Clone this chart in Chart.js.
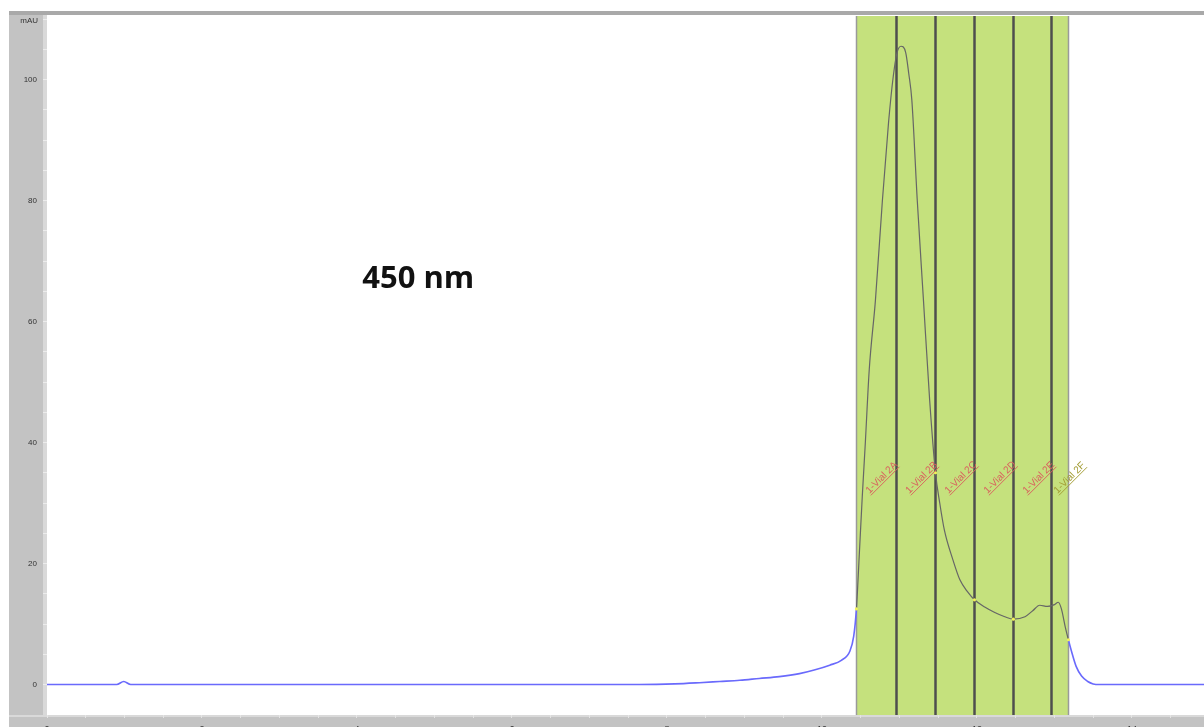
<!DOCTYPE html>
<html>
<head>
<meta charset="utf-8">
<script src="https://cdn.jsdelivr.net/npm/chart.js@4/dist/chart.umd.min.js"></script>
<style>
  html, body { margin: 0; padding: 0; background: #ffffff; overflow: hidden; }
  #wrap { width: 1204px; height: 727px; }
</style>
</head>
<body>
<div id="wrap"><canvas id="chrom" width="1204" height="727"></canvas></div>
<script>
// retention time (min) and absorbance at 450 nm (mAU)
const timeMin = [0.00, 0.67, 0.90, 0.99, 1.08, 3.25, 5.84, 7.64, 8.10, 8.42, 8.68, 8.94, 9.19, 9.45,
  9.71, 9.90, 10.10, 10.25, 10.36, 10.41, 10.445, 10.48, 10.52, 10.56, 10.61, 10.69, 10.78, 10.86,
  10.92, 10.97, 11.02, 11.08, 11.12, 11.16, 11.23, 11.31, 11.39, 11.465, 11.52, 11.58, 11.69, 11.78,
  11.88, 11.968, 12.10, 12.23, 12.36, 12.47, 12.62, 12.72, 12.81, 12.91, 13.00, 13.05, 13.09, 13.14,
  13.18, 13.22, 13.28, 13.35, 13.43, 13.50, 13.58, 14.93];
const absMAU = [0, 0, 0, 0.5, 0, 0, 0, 0, 0.1, 0.3, 0.5, 0.7, 1.0, 1.3,
  1.8, 2.4, 3.2, 4.0, 5.5, 8.0, 12.5, 21, 31, 40, 52, 63.5, 80, 93,
  100.5, 104.5, 105.5, 104.5, 101, 96.6, 80, 63.5, 47, 35, 30, 25.5, 20.6, 17.3,
  15.3, 14, 12.8, 11.9, 11.2, 10.8, 11.2, 12.2, 13.1, 12.9, 13.2, 13.6, 12.5, 9.5,
  7.4, 5.5, 3.0, 1.4, 0.5, 0.1, 0, 0];

// fraction collection windows
const fractionEdges = [10.445, 10.96, 11.464, 11.968, 12.471, 12.962, 13.18];
const fractionNames = ['1-Vial 2A', '1-Vial 2B', '1-Vial 2C', '1-Vial 2D', '1-Vial 2E', '1-Vial 2F'];

const yTickLabels = [0, 20, 40, 60, 80, 100];
const xTickLabels = [0, 2, 4, 6, 8, 10, 12, 14];

const blueLine = '#6a6afc';
const fracLine = '#666666';

function inFraction(x) {
    return x >= fractionEdges[0] - 1e-6 && x <= fractionEdges[fractionEdges.length - 1] + 1e-6;
}
function nearEdge(x) {
    return fractionEdges.some(e => Math.abs(e - x) < 0.004);
}

// fond gris du logiciel + zone blanche du tracé
const frameBg = {
    id: 'frameBg',
    beforeDraw(chart) {
        const { ctx, chartArea: a, width, height } = chart;
        ctx.save();
        ctx.fillStyle = '#ffffff';
        ctx.fillRect(0, 0, width, height);
        ctx.fillStyle = '#c3c3c3';
        ctx.fillRect(9, 13, width - 9, height - 13);
        ctx.fillStyle = '#a9a9a9';
        ctx.fillRect(9, 11, width - 9, 4);
        ctx.fillStyle = '#d9d9d9';
        ctx.fillRect(a.left - 4, 15, 4, a.bottom - 15);
        ctx.fillRect(9, a.bottom, width - 9, 2);
        ctx.fillStyle = '#ffffff';
        ctx.fillRect(a.left, a.top - 1, a.right - a.left, a.bottom - a.top + 1);
        ctx.restore();
    }
};

// fractions : bandes vertes et séparateurs
const fractions = {
    id: 'fractions',
    beforeDatasetsDraw(chart) {
        const { ctx, chartArea: a, scales: { x } } = chart;
        const x0 = x.getPixelForValue(fractionEdges[0]);
        const x1 = x.getPixelForValue(fractionEdges[fractionEdges.length - 1]);
        ctx.save();
        ctx.fillStyle = '#c5e17d';
        ctx.fillRect(x0, a.top, x1 - x0, a.bottom - a.top);
        fractionEdges.forEach((e, i) => {
            const px = Math.round(x.getPixelForValue(e)) + 0.5;
            const outer = (i === 0 || i === fractionEdges.length - 1);
            ctx.strokeStyle = outer ? '#9a9a9a' : '#4e4e4e';
            ctx.lineWidth = outer ? 1.5 : 2.5;
            ctx.beginPath();
            ctx.moveTo(px, a.top);
            ctx.lineTo(px, a.bottom);
            ctx.stroke();
        });
        ctx.restore();
    },
    afterDatasetsDraw(chart) {
        const { ctx, scales: { x, y } } = chart;
        ctx.save();
        ctx.font = '10px "Liberation Sans", Arial, sans-serif';
        ctx.textBaseline = 'alphabetic';
        fractionNames.forEach((name, i) => {
            const px = x.getPixelForValue(fractionEdges[i]) + (i === fractionNames.length - 1 ? 6 : 13);
            const py = y.getPixelForValue(31.5);
            const col = i === fractionNames.length - 1 ? '#a39d35' : '#d9625e';
            ctx.save();
            ctx.translate(px, py);
            ctx.rotate(-Math.PI / 4);
            ctx.fillStyle = col;
            ctx.fillText(name, 0, 0);
            const w = ctx.measureText(name).width;
            ctx.strokeStyle = col;
            ctx.lineWidth = 0.9;
            ctx.beginPath();
            ctx.moveTo(0, 2);
            ctx.lineTo(w, 2);
            ctx.stroke();
            ctx.restore();
        });

        // titre longueur d'onde
        ctx.fillStyle = '#111111';
        ctx.font = 'bold 31px "Open Sans", "Noto Sans", sans-serif';
        ctx.textAlign = 'center';
        ctx.fillText('450 nm', x.getPixelForValue(4.79), y.getPixelForValue(65.5));

        // unité en haut de l'axe
        ctx.fillStyle = '#333333';
        ctx.font = '8px "Liberation Sans", Arial, sans-serif';
        ctx.textAlign = 'right';
        ctx.textBaseline = 'middle';
        ctx.fillText('mAU', 38, y.getPixelForValue(y.max) + 5);
        ctx.restore();
    }
};

new Chart(document.getElementById('chrom').getContext('2d'), {
    type: 'line',
    data: {
        datasets: [{
            label: '450 nm',
            data: timeMin.map((t, i) => ({ x: t, y: absMAU[i] })),
            borderColor: blueLine,
            borderWidth: 1.6,
            cubicInterpolationMode: 'monotone',
            pointRadius: ctx => (ctx.raw && nearEdge(ctx.raw.x) && ctx.raw.y > 1 ? 1.6 : 0),
            pointBackgroundColor: '#f2f25a',
            pointBorderWidth: 0,
            segment: {
                borderColor: ctx => (inFraction(ctx.p0.parsed.x) && inFraction(ctx.p1.parsed.x) ? fracLine : blueLine),
                borderWidth: ctx => (inFraction(ctx.p0.parsed.x) && inFraction(ctx.p1.parsed.x) ? 1.2 : 1.6)
            }
        }]
    },
    options: {
        responsive: false,
        animation: false,
        layout: { padding: { left: 9, top: 16, right: 0, bottom: 0 } },
        plugins: {
            legend: { display: false },
            tooltip: { enabled: false },
            title: { display: false }
        },
        scales: {
            x: {
                type: 'linear',
                min: 0,
                max: 14.93,
                afterBuildTicks(scale) {
                    const t = [];
                    for (let v = 0; v <= scale.max + 1e-9; v += 0.5) t.push({ value: +v.toFixed(2) });
                    scale.ticks = t;
                },
                afterFit(scale) { scale.height = 12; },
                grid: { drawOnChartArea: false, drawTicks: true, tickLength: 3, color: '#e4e4e4' },
                border: { display: false },
                ticks: {
                    autoSkip: false,
                    maxRotation: 0,
                    padding: 6,
                    color: '#333333',
                    font: { size: 9, family: '"Liberation Sans", Arial, sans-serif' },
                    callback: v => (xTickLabels.includes(v) ? String(v) : '')
                }
            },
            y: {
                type: 'linear',
                min: -5.04,
                max: 110.5,
                afterBuildTicks(scale) {
                    const t = [];
                    for (let v = 0; v <= scale.max; v += 5) t.push({ value: v });
                    scale.ticks = t;
                },
                afterFit(scale) { scale.width = 38; },
                grid: { drawOnChartArea: false, drawTicks: true, tickLength: 4, color: '#ececec' },
                border: { display: false },
                ticks: {
                    autoSkip: false,
                    padding: 6,
                    color: '#333333',
                    font: { size: 8, family: '"Liberation Sans", Arial, sans-serif' },
                    callback: v => (yTickLabels.includes(v) ? String(v) : '')
                }
            }
        }
    },
    plugins: [frameBg, fractions]
});
</script>
</body>
</html>
